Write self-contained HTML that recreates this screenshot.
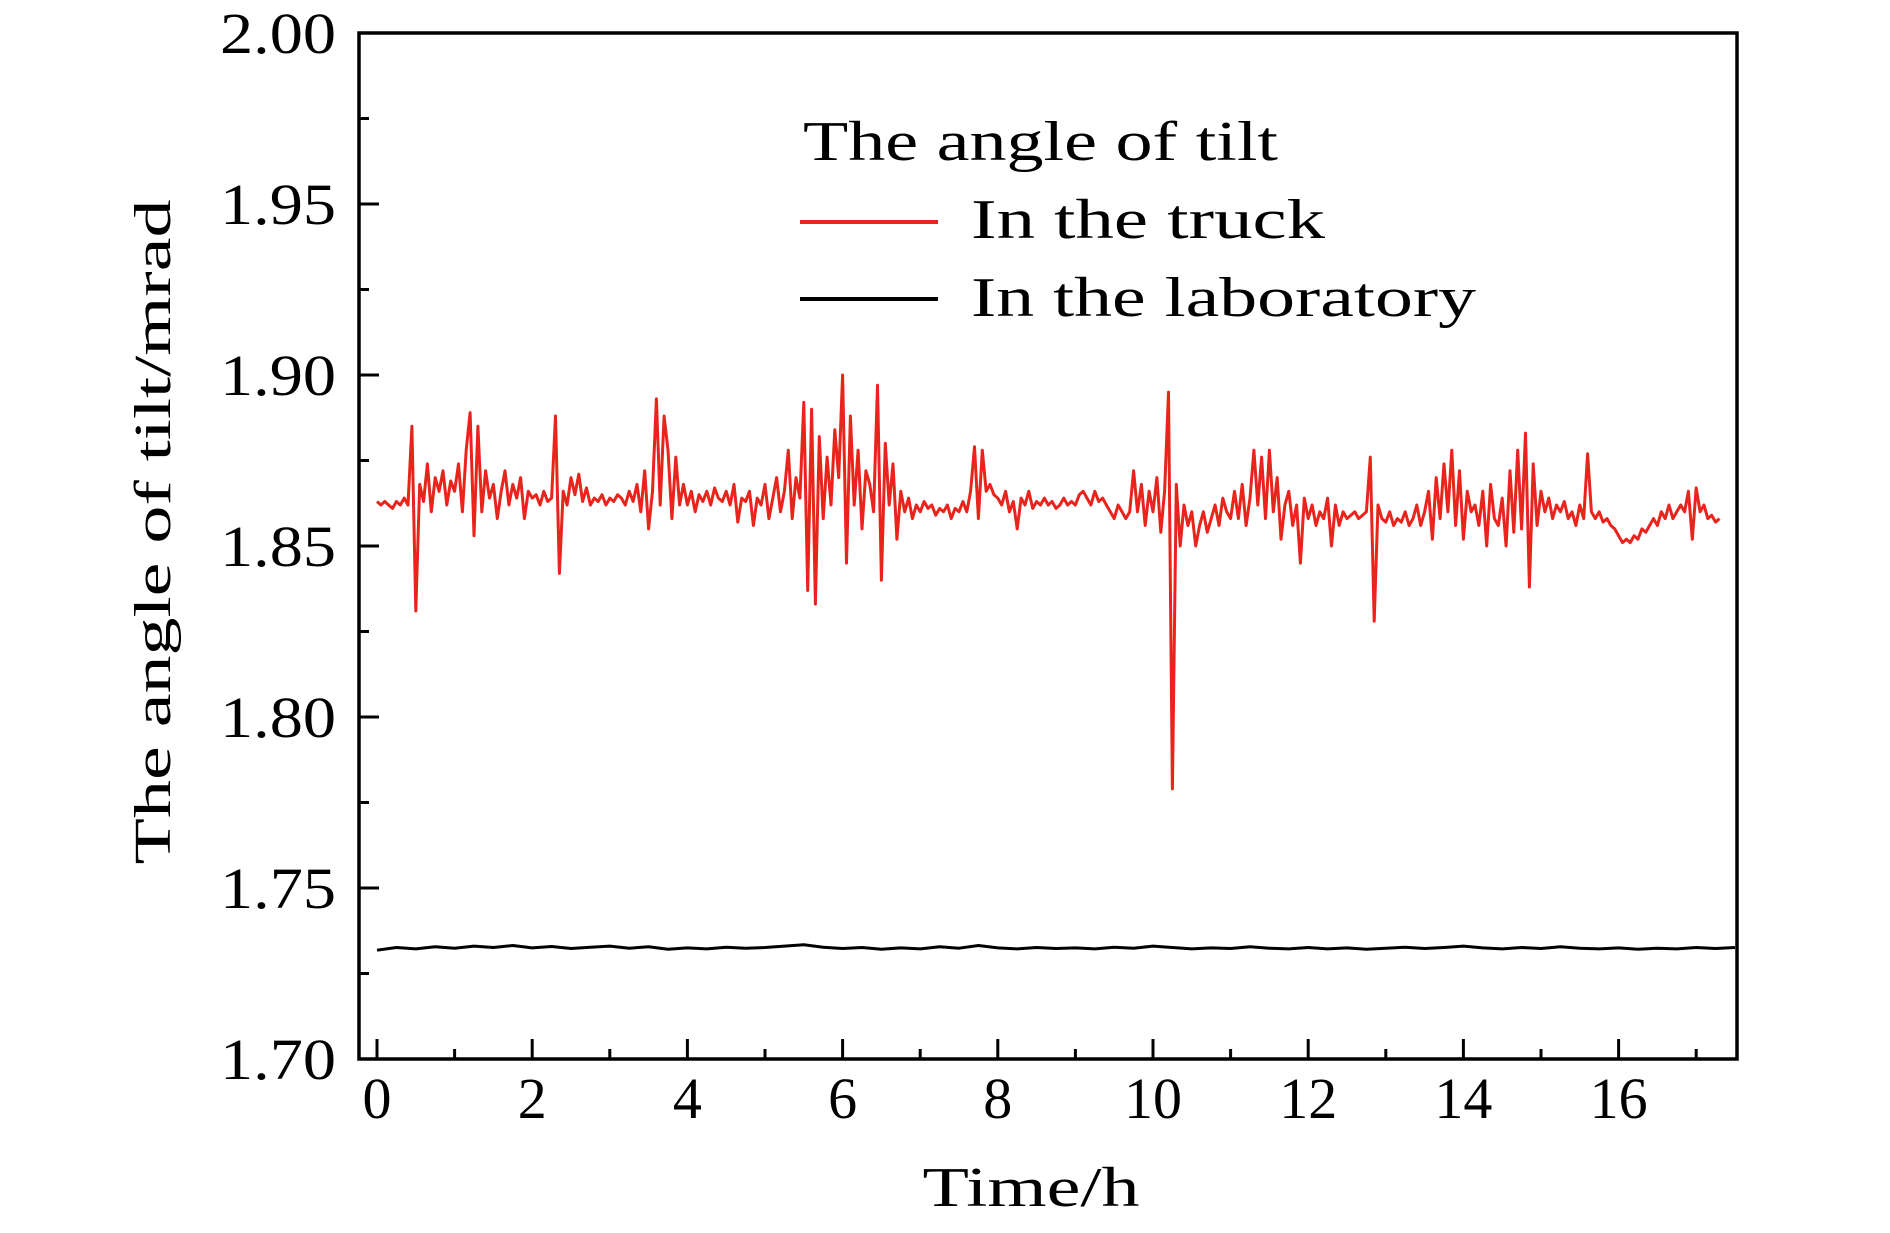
<!DOCTYPE html>
<html><head><meta charset="utf-8"><style>
body{margin:0;background:#fff;}
svg text{font-family:"Liberation Serif",serif;fill:#000;}
</style></head><body>
<svg id="chart" width="1890" height="1228" viewBox="0 0 1890 1228" xmlns="http://www.w3.org/2000/svg">
<defs><clipPath id="plotclip"><rect x="359" y="33" width="1378" height="1026"/></clipPath></defs>
<g id="marks" clip-path="url(#plotclip)"></g>
<rect x="359" y="33" width="1378" height="1026" fill="none" stroke="#000" stroke-width="3.5"/>
<g id="axes"></g>
<text x="170" y="532" font-size="52" text-anchor="middle" textLength="665" lengthAdjust="spacingAndGlyphs" transform="rotate(-90 170 532)">The angle of tilt/mrad</text>
<text x="1031" y="1206" font-size="56" text-anchor="middle" textLength="217" lengthAdjust="spacingAndGlyphs">Time/h</text>
<g>
<text x="803" y="160" font-size="56" textLength="475" lengthAdjust="spacingAndGlyphs">The angle of tilt</text>
<line x1="800" y1="222" x2="938" y2="222" stroke="#e8241c" stroke-width="4"/>
<text x="971" y="238" font-size="56" textLength="354" lengthAdjust="spacingAndGlyphs">In the truck</text>
<line x1="800" y1="299" x2="938" y2="299" stroke="#000" stroke-width="4"/>
<text x="971" y="316" font-size="56" textLength="505" lengthAdjust="spacingAndGlyphs">In the laboratory</text>
</g>
</svg>
<script>
const xTicks=[0,2,4,6,8,10,12,14,16];
const yTicks=[1.70,1.75,1.80,1.85,1.90,1.95,2.00];
const yTickLabels=["1.70","1.75","1.80","1.85","1.90","1.95","2.00"];
const truckStart=0, truckStep=0.05;
const truckValues=[
1.863,1.862,1.863,1.862,1.861,1.863,1.862,1.864,1.862,1.885,1.831,1.868,1.863,1.874,1.860,1.870,1.866,1.872,1.862,1.869,
1.866,1.874,1.860,1.878,1.889,1.853,1.885,1.860,1.872,1.864,1.868,1.858,1.866,1.872,1.862,1.868,1.864,1.870,1.858,1.866,
1.864,1.865,1.862,1.866,1.863,1.864,1.888,1.842,1.866,1.862,1.870,1.865,1.871,1.863,1.867,1.862,1.864,1.863,1.865,1.862,
1.864,1.863,1.865,1.864,1.862,1.866,1.863,1.868,1.860,1.872,1.855,1.866,1.893,1.862,1.888,1.878,1.858,1.876,1.862,1.868,
1.862,1.866,1.860,1.865,1.863,1.866,1.862,1.867,1.864,1.863,1.866,1.862,1.868,1.857,1.864,1.863,1.866,1.856,1.864,1.862,
1.868,1.858,1.864,1.870,1.860,1.866,1.878,1.858,1.870,1.864,1.892,1.837,1.890,1.833,1.882,1.858,1.876,1.862,1.884,1.870,
1.900,1.845,1.888,1.862,1.878,1.855,1.872,1.868,1.860,1.897,1.840,1.880,1.862,1.874,1.852,1.866,1.860,1.864,1.858,1.862,
1.860,1.863,1.861,1.862,1.859,1.861,1.860,1.862,1.858,1.861,1.860,1.863,1.860,1.866,1.879,1.858,1.878,1.866,1.868,1.865,
1.864,1.862,1.866,1.860,1.863,1.855,1.864,1.862,1.866,1.861,1.863,1.862,1.864,1.862,1.863,1.861,1.862,1.864,1.862,1.863,
1.862,1.865,1.866,1.864,1.862,1.866,1.863,1.864,1.862,1.860,1.858,1.862,1.860,1.858,1.860,1.872,1.860,1.868,1.856,1.866,
1.860,1.870,1.854,1.866,1.895,1.779,1.868,1.850,1.862,1.856,1.860,1.850,1.856,1.860,1.854,1.858,1.862,1.856,1.864,1.860,
1.858,1.866,1.858,1.868,1.856,1.864,1.878,1.862,1.876,1.858,1.878,1.860,1.870,1.852,1.862,1.866,1.856,1.862,1.845,1.864,
1.858,1.862,1.856,1.860,1.858,1.864,1.850,1.862,1.856,1.860,1.858,1.859,1.860,1.858,1.859,1.860,1.876,1.828,1.862,1.858,
1.857,1.860,1.856,1.858,1.857,1.860,1.856,1.858,1.862,1.856,1.860,1.866,1.852,1.870,1.858,1.874,1.860,1.878,1.856,1.872,
1.852,1.866,1.860,1.862,1.856,1.866,1.850,1.868,1.858,1.856,1.864,1.850,1.872,1.854,1.878,1.855,1.883,1.838,1.874,1.856,
1.866,1.860,1.864,1.858,1.862,1.860,1.863,1.858,1.860,1.856,1.862,1.858,1.877,1.860,1.858,1.860,1.857,1.858,1.856,1.855,
1.853,1.851,1.852,1.851,1.853,1.852,1.855,1.854,1.856,1.858,1.856,1.860,1.858,1.862,1.858,1.860,1.862,1.860,1.866,1.852,
1.867,1.860,1.862,1.858,1.859,1.857,1.858];
const labStart=0, labStep=0.25;
const labValues=[
1.7318,1.7326,1.7322,1.7328,1.7324,1.7330,1.7326,1.7332,1.7325,1.7329,1.7323,1.7327,1.7330,1.7324,1.7328,1.7321,
1.7325,1.7322,1.7327,1.7324,1.7326,1.7330,1.7334,1.7327,1.7323,1.7326,1.7321,1.7325,1.7322,1.7328,1.7324,1.7332,
1.7325,1.7322,1.7326,1.7323,1.7325,1.7322,1.7327,1.7324,1.7330,1.7326,1.7322,1.7325,1.7323,1.7328,1.7324,1.7322,
1.7326,1.7322,1.7325,1.7321,1.7324,1.7327,1.7323,1.7326,1.7330,1.7325,1.7322,1.7326,1.7323,1.7328,1.7324,1.7322,
1.7325,1.7321,1.7324,1.7322,1.7326,1.7323,1.7326];
const NS="http://www.w3.org/2000/svg";
const X0=377, PXH=77.6;
function xs(t){return X0+t*PXH;}
function ys(v){return 1059-(v-1.70)/0.30*1026;}
const marks=document.getElementById('marks');
const axes=document.getElementById('axes');
function mk(tag,attrs,parent){const e=document.createElementNS(NS,tag);for(const k in attrs)e.setAttribute(k,attrs[k]);parent.appendChild(e);return e;}
function pathFrom(start,step,vals){let d='';vals.forEach((v,i)=>{d+=(i?'L':'M')+xs(start+i*step).toFixed(1)+' '+ys(v).toFixed(1);});return d;}
const lab=mk('path',{d:pathFrom(labStart,labStep,labValues),fill:'none',stroke:'#000','stroke-width':3,'stroke-linejoin':'round'},marks);


const tr=mk('path',{d:pathFrom(truckStart,truckStep,truckValues),fill:'none',stroke:'#e8241c','stroke-width':3,'stroke-linejoin':'round'},marks);


for(let h=0;h<=17;h++){
  const major=h%2===0;
  const t=mk('line',{x1:xs(h),x2:xs(h),y1:1059,y2:major?1039:1049,stroke:'#000','stroke-width':3},axes);
  
  
}
xTicks.forEach(h=>{
  const l=mk('text',{x:xs(h),y:1118,'font-size':58,'text-anchor':'middle'},axes);
  l.textContent=String(h);
  
  
});
for(let i=0;i<=12;i++){
  const v=1.70+i*0.025;const major=i%2===0;
  const t=mk('line',{x1:359,x2:major?379:369,y1:ys(v),y2:ys(v),stroke:'#000','stroke-width':3},axes);
  
  
}
yTicks.forEach((v,i)=>{
  const l=mk('text',{x:336,y:ys(v)+20,'font-size':58,'text-anchor':'end',textLength:116,lengthAdjust:'spacingAndGlyphs'},axes);
  l.textContent=yTickLabels[i];
  
  
});
</script>
</body></html>
